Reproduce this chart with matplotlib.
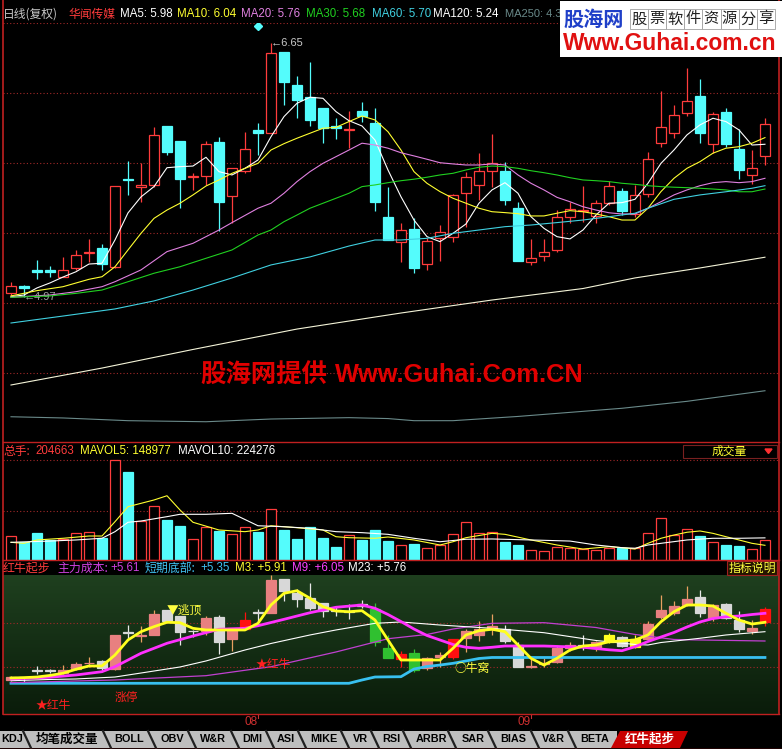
import numpy as np
import matplotlib.pyplot as plt
from matplotlib.patches import Rectangle, Polygon
from matplotlib.transforms import blended_transform_factory

W, H = 782, 749
CJK = ['Noto Sans CJK SC', 'DejaVu Sans']
LAT = ['Liberation Sans', 'DejaVu Sans']

# ---- daily candles (yuan) ----
opens = [4.995, 5.045, 5.149, 5.149, 5.104, 5.164, 5.264, 5.292, 5.170, 5.752,
         5.696, 5.711, 6.101, 6.002, 5.765, 5.770, 5.993, 5.638, 5.805, 6.075,
         6.057, 6.588, 6.372, 6.291, 6.218, 6.101, 6.075, 6.200, 6.119, 5.501,
         5.336, 5.420, 5.186, 5.362, 5.365, 5.656, 5.709, 5.805, 5.803, 5.557,
         5.204, 5.243, 5.281, 5.501, 5.541, 5.506, 5.594, 5.671, 5.519, 5.649,
         5.987, 6.057, 6.185, 6.300, 5.980, 6.194, 5.947, 5.777, 5.905]
highs = [5.068, 5.048, 5.215, 5.177, 5.237, 5.281, 5.354, 5.321, 5.704, 5.872,
         5.854, 6.096, 6.101, 6.002, 5.792, 6.004, 6.030, 5.821, 6.063, 6.119,
         6.650, 6.588, 6.432, 6.526, 6.218, 6.152, 6.200, 6.260, 6.218, 5.700,
         5.461, 5.490, 5.358, 5.446, 5.651, 5.799, 5.924, 6.046, 5.865, 5.596,
         5.352, 5.352, 5.545, 5.600, 5.706, 5.612, 5.739, 5.689, 5.711, 5.931,
         6.334, 6.240, 6.487, 6.410, 6.196, 6.218, 6.079, 5.942, 6.156]
lows = [4.975, 4.970, 5.089, 5.104, 5.100, 5.149, 5.204, 5.149, 5.160, 5.645,
        5.600, 5.700, 5.909, 5.557, 5.678, 5.711, 5.409, 5.461, 5.792, 5.909,
        6.057, 6.240, 6.156, 6.101, 5.987, 6.015, 5.954, 6.130, 5.541, 5.347,
        5.204, 5.131, 5.149, 5.210, 5.336, 5.435, 5.612, 5.700, 5.579, 5.210,
        5.182, 5.210, 5.270, 5.461, 5.468, 5.461, 5.579, 5.512, 5.501, 5.633,
        5.960, 6.020, 6.167, 5.987, 5.921, 5.964, 5.749, 5.717, 5.843]
closes = [5.045, 5.030, 5.133, 5.133, 5.149, 5.248, 5.270, 5.188, 5.704, 5.745,
          5.711, 6.041, 5.931, 5.749, 5.770, 5.980, 5.600, 5.821, 5.947, 6.057,
          6.582, 6.394, 6.273, 6.141, 6.086, 6.086, 6.080, 6.167, 5.600, 5.347,
          5.413, 5.160, 5.340, 5.398, 5.645, 5.766, 5.803, 5.854, 5.612, 5.210,
          5.226, 5.266, 5.497, 5.550, 5.545, 5.594, 5.704, 5.541, 5.645, 5.883,
          6.096, 6.172, 6.268, 6.057, 6.178, 5.980, 5.810, 5.821, 6.112]

# ---- moving averages as shown on the chart (day index, value) ----
ma5 = [4.972, 4.983, 5.030, 5.063, 5.102, 5.137, 5.188, 5.193, 5.347, 5.526,
       5.632, 5.700, 5.825, 5.832, 5.836, 5.894, 5.799, 5.777, 5.821, 5.876,
       6.030, 6.163, 6.251, 6.291, 6.284, 6.196, 6.136, 6.101, 6.008, 5.810,
       5.633, 5.479, 5.369, 5.336, 5.391, 5.453, 5.590, 5.678, 5.726, 5.656,
       5.501, 5.424, 5.369, 5.354, 5.413, 5.512, 5.590, 5.594, 5.616, 5.722,
       5.854, 5.942, 6.042, 6.108, 6.152, 6.130, 6.075, 5.975, 5.980]
ma10_x = [0, 2, 4, 6] + list(range(7, 59))
ma10 = [4.977, 5.012, 5.038, 5.087, 5.104, 5.170, 5.281, 5.391, 5.490, 5.545,
        5.590, 5.645, 5.704, 5.744, 5.788, 5.821, 5.854, 5.942, 5.984, 6.020,
        6.053, 6.086, 6.092, 6.130, 6.167, 6.141, 6.063, 5.942, 5.799, 5.722,
        5.667, 5.623, 5.590, 5.557, 5.534, 5.528, 5.521, 5.506, 5.506, 5.524,
        5.541, 5.534, 5.519, 5.501, 5.479, 5.479, 5.557, 5.667, 5.755, 5.821,
        5.865, 5.921, 5.954, 5.964, 5.987, 6.024]
ma20_x = [0, 3, 5, 7, 8, 10, 12, 14, 16, 17, 19] + list(range(20, 59))
ma20 = [4.968, 4.983, 5.005, 5.038, 5.071, 5.149, 5.270, 5.325, 5.413, 5.462,
        5.557, 5.590, 5.656, 5.733, 5.799, 5.854, 5.898, 5.942, 5.987, 5.975,
        5.954, 5.924, 5.903, 5.881, 5.858, 5.850, 5.843, 5.843, 5.850, 5.843,
        5.777, 5.722, 5.678, 5.629, 5.600, 5.567, 5.545, 5.527, 5.519, 5.519,
        5.557, 5.600, 5.645, 5.678, 5.706, 5.726, 5.733, 5.726, 5.733, 5.755]
ma30_x = [0, 3, 5, 7, 9, 11, 13, 15, 17, 19] + list(range(20, 59))
ma30 = [4.968, 4.977, 4.994, 5.016, 5.071, 5.127, 5.170, 5.226, 5.281, 5.380,
        5.413, 5.468, 5.512, 5.557, 5.590, 5.623, 5.656, 5.700, 5.711, 5.726,
        5.739, 5.749, 5.762, 5.777, 5.788, 5.810, 5.828, 5.836, 5.832, 5.821,
        5.805, 5.792, 5.777, 5.759, 5.744, 5.739, 5.733, 5.722, 5.715, 5.706,
        5.700, 5.696, 5.693, 5.689, 5.684, 5.678, 5.666, 5.666, 5.684]
ma60_x = [0, 4, 8, 11, 14, 17, 20, 23, 26, 28, 30, 32, 34, 36, 38, 40, 42, 44,
          46, 48, 49, 51, 53, 55, 57, 58]
ma60 = [4.798, 4.844, 4.891, 4.944, 5.016, 5.096, 5.182, 5.235, 5.307, 5.347,
        5.347, 5.358, 5.391, 5.413, 5.435, 5.446, 5.462, 5.479, 5.501, 5.524,
        5.557, 5.616, 5.645, 5.666, 5.689, 5.706]
ma120_x = [0, 7, 14, 22, 30, 37, 44, 48, 53, 58]
ma120 = [4.388, 4.500, 4.623, 4.758, 4.864, 4.950, 5.026, 5.096, 5.162, 5.233]
ma250_x = [0, 4, 9, 15, 20, 26, 29, 31, 34, 39, 47, 52, 58]
ma250 = [4.178, 4.170, 4.152, 4.145, 4.163, 4.172, 4.166, 4.152, 4.152, 4.180,
         4.234, 4.280, 4.350]

# ---- volume (shares) ----
volume = [243000, 185000, 277000, 203000, 216000, 270000, 281000, 226000, 1013000, 894000,
          395000, 547000, 405000, 347000, 210000, 331000, 297000, 263000, 331000, 287000,
          514000, 304000, 213000, 331000, 226000, 135000, 253000, 203000, 304000, 196000,
          152000, 162000, 119000, 152000, 263000, 382000, 270000, 281000, 185000, 152000,
          101000, 91000, 129000, 125000, 111000, 101000, 125000, 119000, 119000, 270000,
          422000, 253000, 311000, 243000, 179000, 152000, 142000, 108000, 204663]
mavol5_x = [0, 1, 2, 4, 6, 7, 8, 9, 11, 12, 13, 14, 16, 18, 19, 20, 22, 24, 25, 26,
            28, 29, 31, 33, 34, 35, 37, 38, 40, 42, 44, 46, 47, 48, 49, 50, 51, 52,
            53, 54, 55, 56, 57, 58]
mavol5 = [179000, 169000, 203000, 220000, 243000, 243000, 388000, 540000, 608000, 651000,
          507000, 382000, 304000, 287000, 304000, 347000, 327000, 304000, 236000, 226000,
          220000, 233000, 203000, 152000, 185000, 226000, 270000, 260000, 203000, 152000,
          111000, 135000, 125000, 111000, 169000, 220000, 253000, 281000, 294000, 270000,
          236000, 203000, 169000, 148977]
mavol10_x = [0, 3, 5, 7, 8, 9, 10, 12, 13, 15, 17, 19, 21, 23, 25, 27, 29, 31, 33, 35,
             37, 40, 43, 45, 47, 48, 49, 50, 52, 54, 56, 58]
mavol10 = [179000, 192000, 203000, 220000, 287000, 382000, 395000, 439000, 463000, 463000,
           473000, 347000, 337000, 321000, 287000, 277000, 260000, 220000, 185000, 210000,
           213000, 203000, 192000, 152000, 125000, 119000, 152000, 169000, 203000, 220000,
           220000, 224276]

# ---- 红牛起步 indicator ----
m3 = [5.030, 5.035, 5.045, 5.070, 5.104, 5.167, 5.219, 5.219, 5.392, 5.629,
      5.760, 5.839, 5.908, 5.902, 5.813, 5.787, 5.787, 5.787, 5.787, 5.892,
      6.181, 6.365, 6.406, 6.287, 6.154, 6.086, 6.075, 6.091, 5.944, 5.629,
      5.313, 5.313, 5.313, 5.313, 5.498, 5.708, 5.775, 5.798, 5.760, 5.550,
      5.340, 5.234, 5.340, 5.471, 5.534, 5.550, 5.602, 5.613, 5.629, 5.708,
      5.917, 6.075, 6.181, 6.181, 6.165, 6.050, 5.944, 5.881, 5.908]
m9_x = [0, 3, 5, 7, 8, 10, 12, 14, 16, 18, 19, 21, 23, 25, 27, 28, 29, 30, 31, 32,
        33, 34, 35, 36, 37, 38, 41, 44, 46, 47, 48, 49, 50, 51, 52, 53, 54, 55, 56,
        57, 58]
m9 = [5.014, 5.041, 5.077, 5.129, 5.208, 5.419, 5.577, 5.692, 5.798, 5.813,
      5.854, 5.955, 6.059, 6.145, 6.181, 6.129, 6.031, 5.920, 5.802, 5.700,
      5.629, 5.558, 5.514, 5.498, 5.514, 5.534, 5.534, 5.514, 5.474, 5.460,
      5.523, 5.605, 5.676, 5.747, 5.834, 5.913, 5.968, 5.995, 6.007, 6.031, 6.050]
m23_x = [0, 3, 5, 8, 10, 13, 15, 18, 20, 23, 25, 28, 30, 33, 37, 41, 45, 48, 49,
         50, 53, 55, 58]
m23 = [4.987, 5.006, 5.014, 5.045, 5.108, 5.203, 5.298, 5.471, 5.574, 5.708,
       5.787, 5.892, 5.913, 5.865, 5.813, 5.744, 5.621, 5.558, 5.550, 5.589,
       5.656, 5.708, 5.760]
cost_x = [0, 8, 15, 20, 25, 29, 32, 34, 37, 41, 45, 48, 51, 53, 58]
cost = [4.956, 4.998, 5.066, 5.208, 5.440, 5.649, 5.716, 5.802, 5.892, 5.902,
        5.826, 5.716, 5.637, 5.629, 5.613]
bottom_x = [0, 26, 27, 28, 30, 31, 32, 33, 34, 35, 36, 37, 58]
bottom = [4.946, 4.946, 4.998, 5.045, 5.050, 5.171, 5.211, 5.234, 5.261, 5.298,
          5.337, 5.353, 5.353]
# candle colour class in the indicator: u up, d down, R/G/Y signal colours
ind_kind = ['u', 'd', 'd', 'd', 'u', 'u', 'u', 'd', 'u', 'd',
            'u', 'u', 'd', 'd', 'd', 'u', 'd', 'u', 'R', 'd',
            'u', 'd', 'd', 'd', 'd', 'd', 'd', 'd', 'G', 'G',
            'R', 'G', 'u', 'u', 'R', 'u', 'u', 'u', 'd', 'd',
            'u', 'u', 'u', 'u', 'd', 'u', 'Y', 'd', 'Y', 'u',
            'u', 'u', 'u', 'd', 'u', 'd', 'd', 'u', 'R']
signals = [('★红牛', 1.9, 4.588, '#ff2020'), ('涨停', 8.0, 4.730, '#ff2020'),
           ('★红牛', 18.85, 5.250, '#ff2020'), ('▼逃顶', 12.0, 6.102, '#ffff40'),
           ('○牛窝', 34.15, 5.187, '#ffff40')]

month_pos = [19, 40]
month_lab = ['08', '09']

tab_names = ['KDJ', '均笔成交量', 'BOLL', 'OBV', 'W&R', 'DMI', 'ASI', 'MIKE', 'VR',
             'RSI', 'ARBR', 'SAR', 'BIAS', 'V&R', 'BETA']

# ================================
# figure / panels
# ================================
fig = plt.figure(figsize=(W / 100, H / 100), dpi=100, facecolor='black')
n = len(closes)
XL = (-0.615, 59.08)


def px_axes(x0, y0, x1, y1, z=1):
    ax = fig.add_axes([x0 / W, 1 - y1 / H, (x1 - x0) / W, (y1 - y0) / H], zorder=z)
    ax.axis('off')
    return ax


def hgrid(ax, top, bot, ys):
    for y in ys:
        f = (bot - y) / (bot - top)
        ax.plot([0, 1], [f, f], transform=ax.transAxes, color='#a02828', lw=0.8,
                ls=(0, (1, 2)), zorder=0)


def draw_candles(ax, face_up, edge_up, wick_up, face_dn, edge_dn, wick_dn, w=0.74):
    for i in range(n):
        o, h, l, c = opens[i], highs[i], lows[i], closes[i]
        up = c >= o
        fc, ec, wc = (face_up[i], edge_up[i], wick_up[i]) if up else (face_dn[i], edge_dn[i], wick_dn[i])
        ax.vlines(i, l, h, color=wc, lw=0.9, zorder=2)
        lo = min(o, c)
        ht = max(abs(c - o), 0.001)
        ax.add_patch(Rectangle((i - w / 2, lo), w, ht, facecolor=fc, edgecolor=ec,
                               lw=0.9, zorder=3))


RED = '#ff3c3c'
CYAN = '#54fcfc'

# ---- main price panel ----
ax_k = px_axes(3, 23, 779, 442)
hgrid(ax_k, 23, 442, [23, 93, 163, 233, 303, 373])
draw_candles(ax_k, ['black'] * n, [RED] * n, [RED] * n, [CYAN] * n, [CYAN] * n, [CYAN] * n)
ax_k.plot(range(n), ma5, color='white', lw=0.8, zorder=4)
ax_k.plot(ma10_x, ma10, color='#ffff30', lw=0.8, zorder=4)
ax_k.plot(ma20_x, ma20, color='#e080e0', lw=0.8, zorder=4)
ax_k.plot(ma30_x, ma30, color='#20d020', lw=0.8, zorder=4)
ax_k.plot(ma60_x, ma60, color='#40d0e0', lw=0.8, zorder=4)
ax_k.plot(ma120_x, ma120, color='#f4f4d8', lw=0.8, zorder=4)
ax_k.plot(ma250_x, ma250, color='#6a8a8a', lw=0.8, zorder=4)
ax_k.plot(19, 6.762, marker='D', ms=4, color=CYAN, zorder=5)
ax_k.text(20, 6.65, '←6.65', color='#c8c8c8', fontsize=8, family=LAT, va='center', ha='left')
ax_k.text(1.0, 4.968, '←4.97', color='#a0a0a0', fontsize=8, family=LAT, va='center', ha='left')
ax_k.set_xlim(*XL)
ax_k.set_ylim(4.011, 6.782)

# ---- volume panel ----
ax_v = px_axes(3, 442, 779, 560)
hgrid(ax_v, 442, 560, [460, 511])
for i in range(n):
    if closes[i] >= opens[i]:
        ax_v.add_patch(Rectangle((i - 0.37, 0), 0.74, volume[i], facecolor='black',
                                 edgecolor=RED, lw=0.9, zorder=2))
    else:
        ax_v.add_patch(Rectangle((i - 0.37, 0), 0.74, volume[i], facecolor=CYAN,
                                 edgecolor=CYAN, lw=0.9, zorder=2))
ax_v.plot(mavol5_x, mavol5, color='#ffff30', lw=0.8, zorder=3)
ax_v.plot(mavol10_x, mavol10, color='white', lw=0.8, zorder=3)
ax_v.set_xlim(*XL)
ax_v.set_ylim(0, 1195340)

# ---- indicator panel ----
ax_i = px_axes(3, 575, 779, 714)
g = np.linspace(0, 1, 120)[:, None, None]
top_c = np.array([0.12, 0.25, 0.12])
bot_c = np.array([0.04, 0.11, 0.04])
ax_i.imshow(top_c + (bot_c - top_c) * g * np.ones((1, 2, 3)), extent=[0, 1, 0, 1],
            transform=ax_i.transAxes, aspect='auto', zorder=0)
hgrid(ax_i, 575, 714, [622.7, 667.3])
kind_face = {'u': '#e88080', 'd': '#d8d8d8', 'R': '#ff1010', 'G': '#30c030', 'Y': '#ffff20'}
kind_wick = {'u': '#e8a060', 'd': '#e8e8e8', 'R': '#ff1010', 'G': '#30c030', 'Y': '#ffff20'}
fcs = [kind_face[k] for k in ind_kind]
wcs = [kind_wick[k] for k in ind_kind]
draw_candles(ax_i, fcs, fcs, wcs, fcs, fcs, wcs)
ax_i.plot(bottom_x, bottom, color='#38c0f0', lw=2.0, zorder=4)
ax_i.plot(cost_x, cost, color='#c040d0', lw=0.9, zorder=4)
ax_i.plot(m23_x, m23, color='white', lw=0.8, zorder=4)
ax_i.plot(m9_x, m9, color='#ff30ff', lw=2.0, zorder=5)
ax_i.plot(range(n), m3, color='#ffff20', lw=2.0, zorder=6)
for s, xi, yv, col in signals:
    ax_i.text(xi, yv, s, color=col, fontsize=8.5, family=CJK, va='center', ha='left', zorder=7)
ax_i.set_xlim(*XL)
ax_i.set_ylim(4.4616, 6.654)
tr = blended_transform_factory(ax_i.transData, ax_i.transAxes)
for p, lab in zip(month_pos, month_lab):
    ax_i.plot([p, p], [0, -0.03], transform=tr, color='#c83232', lw=0.8, clip_on=False)
    ax_i.text(p - 0.05, -0.058, lab, transform=tr, color='#d03030', fontsize=8.5,
              family=LAT, ha='right', va='center', clip_on=False)

# ================================
# overlay: frame, headers, logo, tabs
# ================================
ov = px_axes(0, 0, W, H, z=10)
ov.set_xlim(0, W)
ov.set_ylim(H, 0)

for y in [442, 560, 714]:
    ov.plot([3, 779], [y, y], color='#c02020', lw=1.0)
ov.plot([2.5, 2.5], [0, 714], color='#c02020', lw=1.2)
ov.plot([779, 779], [0, 714], color='#c02020', lw=1.2)


def t(x, y, s, color, size=8.3, fam=LAT, **kw):
    ov.text(x, y, s, color=color, fontsize=size, family=fam, va='center', ha='left', **kw)


# main header
t(3, 14, '日线(复权)', '#c8c8c8', 8.5, CJK)
t(68, 14, '华闻传媒', RED, 8.5, CJK)
t(120, 14, 'MA5: 5.98', 'white')
t(177, 14, 'MA10: 6.04', '#ffff30')
t(241, 14, 'MA20: 5.76', '#e080e0')
t(306, 14, 'MA30: 5.68', '#20d020')
t(372, 14, 'MA60: 5.70', '#40d0e0')
t(433, 14, 'MA120: 5.24', 'white')
t(505, 14, 'MA250: 4.3', '#6a8a8a', 8.0)

# volume header
t(3, 451, '总手:', RED, 8.5, CJK)
t(35, 451, '204663', RED)
t(80, 451, 'MAVOL5: 148977', '#ffff30')
t(178, 451, 'MAVOL10: 224276', 'white')
ov.add_patch(Rectangle((683, 445), 94, 13, facecolor='black', edgecolor='#7a2020', lw=0.8))
t(712, 451, '成交量', '#ffff30', 8.5, CJK)
ov.add_patch(Polygon([(765, 449), (772, 449), (768.5, 453.5)], color='#ff3030'))

# indicator header
t(3, 568, '红牛起步', RED, 8.6, CJK)
t(57, 568, '主力成本:', '#d040e0', 8.6, CJK)
t(110, 568, '+5.61', '#d040e0')
t(145, 568, '短期底部:', '#40c0f0', 8.6, CJK)
t(200, 568, '+5.35', '#40c0f0')
t(235, 568, 'M3: +5.91', '#ffff30')
t(292, 568, 'M9: +6.05', '#ff40ff')
t(348, 568, 'M23: +5.76', 'white')
ov.add_patch(Rectangle((727, 561), 50, 14, facecolor='#241400', edgecolor='#a02020', lw=0.8))
t(729, 568, '指标说明', '#ffff40', 8.6, CJK)

# watermark
t(200, 375, '股海网提供', '#e00000', 18.3, CJK, weight='bold')
t(335, 375, 'Www.Guhai.Com.CN', '#e00000', 18.3, LAT, weight='bold')

# logo box
ov.add_patch(Rectangle((560, 1), 222, 56, facecolor='white', edgecolor='none', zorder=5))
t(563, 19, '股海网', '#1f3fc8', 14.5, CJK, weight='bold', zorder=6)
for k, ch in enumerate('股票软件资源分享'):
    cx = 630 + k * 18.1
    ov.add_patch(Rectangle((cx, 9), 18.1, 20, facecolor='white', edgecolor='#a0a0a0', lw=0.6, zorder=6))
    ov.text(cx + 9, 19, ch, color='#202020', fontsize=11, family=CJK, ha='center', va='center', zorder=7)
t(563, 43, 'Www.Guhai.com.cn', '#e01010', 16.5, LAT, weight='bold', zorder=6)

# tabs
ov.add_patch(Rectangle((0, 731), 617, 17, facecolor='#bebebe', edgecolor='none'))
tab_div = [27, 107, 152, 192, 235, 270, 302, 345, 375, 407, 452, 492, 535, 572]
tab_mid = [12, 67, 129, 172, 213, 252, 286, 324, 360, 391, 431, 473, 513, 553, 595]
for d in tab_div:
    ov.plot([d - 4, d + 4], [731, 748], color='#202020', lw=1.6)
for name, cx in zip(tab_names, tab_mid):
    fam = CJK if name == '均笔成交量' else LAT
    sz = 9.0 if name == '均笔成交量' else 7.8
    ov.text(cx, 739.5, name, color='black', fontsize=sz, family=fam, weight='bold',
            ha='center', va='center')
ov.add_patch(Polygon([(611, 748), (620, 731), (688, 731), (680, 748)], facecolor='#c80000',
                     edgecolor='none'))
ov.text(650, 739.5, '红牛起步', color='white', fontsize=9.0, family=CJK, weight='bold',
        ha='center', va='center')
ov.plot([0, 782], [748.5, 748.5], color='#a01010', lw=1.0)

fig.savefig('out.png', dpi=100, facecolor='black')
